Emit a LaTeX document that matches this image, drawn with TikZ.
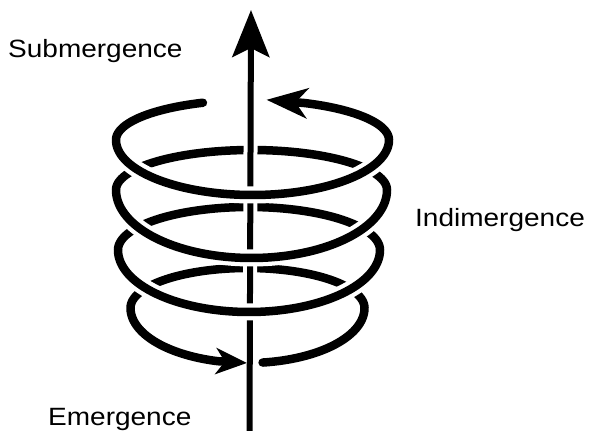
\documentclass[tikz,border=0pt]{standalone}
\usepackage{fontspec}
\setmainfont{Liberation Sans}
\usetikzlibrary{arrows.meta,calc}

\begin{document}
\begin{tikzpicture}[x=1pt,y=-1pt,
  coil/.style={line width=8.5pt, line cap=round, black},
  coilhalo/.style={line width=17pt, line cap=butt, white},
  wordlabel/.style={anchor=base west, inner sep=0pt, font=\fontsize{25}{30}\selectfont},
]
\fill[white] (0,0) rectangle (589,431);
\useasboundingbox (0,0) rectangle (589,431);

% bottom turn, ending in the arrow that meets the axis
\draw[coil, -{Stealth[length=31pt,width=26pt,inset=9pt]}]
  plot[domain=82.6:-255.4, samples=160]
  ({247.5+117*cos(\x)},{308+(sin(\x)>0?55:40)*sin(\x)}) -- (246.9,363);

% back halves of the two middle turns
\draw[coil] plot[domain=180:360, samples=90] ({249+131*cos(\x)},{250+43*sin(\x)});
\draw[coil] plot[domain=180:360, samples=90] ({251.5+135.5*cos(\x)},{190+40*sin(\x)});

% vertical axis, passing in front of the back halves
\coordinate (axtop) at (251,10);
\coordinate (axbot) at (249.5,434);
\draw[white, line width=14pt] ($(axtop)!0.12!(axbot)$) -- ($(axtop)!0.79!(axbot)$);
\draw[line width=6pt, -{Stealth[length=47pt,width=37pt,inset=9pt]}] (axbot) -- (axtop);

% front halves, each passing over the axis and the turn below
\draw[coilhalo] plot[domain=0:180, samples=90] ({249+131*cos(\x)},{250+62*sin(\x)});
\draw[coil] plot[domain=0:180, samples=90] ({249+131*cos(\x)},{250+62*sin(\x)});
\draw[coilhalo] plot[domain=0:180, samples=90] ({251.5+135.5*cos(\x)},{190+68*sin(\x)});
\draw[coil] plot[domain=0:180, samples=90] ({251.5+135.5*cos(\x)},{190+68*sin(\x)});

% top turn, open at the back, with its arrow
\draw[coilhalo] plot[domain=0:180, samples=90] ({252.5+136.5*cos(\x)},{140+55*sin(\x)});
\draw[coil, -{Stealth[length=41pt,width=30pt,inset=12pt]}]
  plot[domain=248.7:-67.4, samples=180]
  ({252.5+136.5*cos(\x)},{140+(sin(\x)>0?55:40)*sin(\x)}) -- (266.5,99.8);

% labels
\node[wordlabel] (sub) at (8,57) {\scalebox{1.12}[1]{Submergence}};
\node[wordlabel] (ind) at (415,226) {\scalebox{1.12}[1]{Indimergence}};
\node[wordlabel] (eme) at (48,425) {\scalebox{1.12}[1]{Emergence}};
\end{tikzpicture}
\end{document}
